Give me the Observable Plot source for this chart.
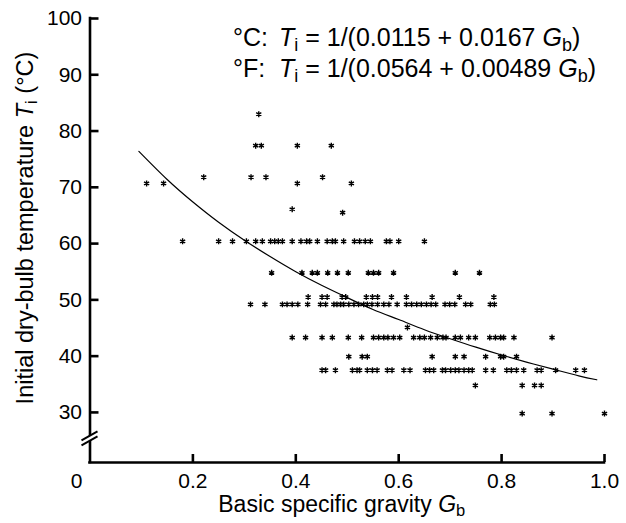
<!DOCTYPE html>
<html><head><meta charset="utf-8">
<script src="https://cdn.jsdelivr.net/npm/d3@7"></script>
<script src="https://cdn.jsdelivr.net/npm/@observablehq/plot@0.6"></script>
<style>body{margin:0;background:#fff} #chart svg{display:block}</style>
</head><body><div id="chart"></div>
<script>
// Temperature levels (°C) of the point rows, top to bottom
const rowTemps = [83.0, 77.4, 71.8, 70.7, 66.1, 65.5, 60.4, 54.8, 50.5, 49.2, 45.1, 43.3, 39.9, 37.5, 34.8, 29.8];
// Basic specific gravity of each point in each row
const gAt83 = [0.328];
const gAt77 = [0.322, 0.333, 0.403, 0.469];
const gAt72 = [0.221, 0.313, 0.342, 0.452];
const gAt71 = [0.110, 0.143, 0.403, 0.508];
const gAt66 = [0.393];
const gAt65 = [0.491];
const gAt60 = [0.180, 0.250, 0.277, 0.304, 0.322, 0.335, 0.351, 0.359, 0.366, 0.374, 0.393, 0.410, 0.421, 0.427, 0.442, 0.461, 0.471, 0.477, 0.493, 0.514, 0.524, 0.535, 0.545, 0.576, 0.583, 0.600, 0.650];
const gAt55 = [0.353, 0.412, 0.432, 0.442, 0.462, 0.481, 0.502, 0.541, 0.551, 0.561, 0.590, 0.710, 0.757];
const gAt50 = [0.424, 0.451, 0.461, 0.490, 0.497, 0.537, 0.549, 0.559, 0.586, 0.615, 0.665, 0.718, 0.785];
const gAt49 = [0.312, 0.340, 0.374, 0.383, 0.393, 0.404, 0.423, 0.448, 0.458, 0.474, 0.480, 0.487, 0.493, 0.503, 0.513, 0.522, 0.532, 0.539, 0.548, 0.559, 0.571, 0.581, 0.597, 0.615, 0.625, 0.635, 0.644, 0.654, 0.663, 0.672, 0.690, 0.699, 0.709, 0.730, 0.740, 0.778, 0.786];
const gAt45 = [0.617];
const gAt43 = [0.393, 0.419, 0.451, 0.471, 0.502, 0.528, 0.551, 0.561, 0.571, 0.579, 0.590, 0.602, 0.629, 0.641, 0.650, 0.662, 0.675, 0.686, 0.692, 0.710, 0.720, 0.736, 0.749, 0.777, 0.788, 0.798, 0.804, 0.824, 0.898];
const gAt40 = [0.503, 0.529, 0.539, 0.665, 0.710, 0.727, 0.769, 0.798, 0.804, 0.829];
const gAt37 = [0.451, 0.458, 0.477, 0.510, 0.519, 0.524, 0.539, 0.549, 0.558, 0.578, 0.587, 0.610, 0.622, 0.652, 0.660, 0.668, 0.685, 0.691, 0.701, 0.710, 0.717, 0.727, 0.736, 0.743, 0.769, 0.784, 0.810, 0.819, 0.829, 0.843, 0.869, 0.877, 0.905, 0.944, 0.961];
const gAt35 = [0.749, 0.840, 0.864, 0.877];
const gAt30 = [0.840, 0.898, 1.000];
const rowGravities = [gAt83, gAt77, gAt72, gAt71, gAt66, gAt65, gAt60, gAt55, gAt50, gAt49, gAt45, gAt43, gAt40, gAt37, gAt35, gAt30];

// Fitted curve
const curveG = [0.095, 0.15, 0.2, 0.25, 0.3, 0.35, 0.4, 0.45, 0.5, 0.55, 0.6, 0.65, 0.7, 0.75, 0.8, 0.85, 0.9, 0.95, 0.985];
const curveT = [76.4, 71.4, 67.4, 63.8, 60.6, 57.7, 55.0, 52.6, 50.4, 48.3, 46.5, 44.7, 43.1, 41.6, 40.2, 38.9, 37.7, 36.5, 35.8];

// Ticks
const xTicks = [0.2, 0.4, 0.6, 0.8, 1.0];
const yTicks = [30, 40, 50, 60, 70, 80, 90, 100];
const xDomain = [0, 1];
const yDomain = [21.1, 100];

const points = rowTemps.flatMap((t, i) => rowGravities[i].map(g => ({g, t})));
const curve = curveG.map((g, i) => ({g, t: curveT[i]}));

const FONT = '"Liberation Sans", Arial, Helvetica, sans-serif';

const chart = Plot.plot({
  width: 626, height: 523,
  marginLeft: 89.5, marginRight: 22, marginTop: 18, marginBottom: 61,
  x: {domain: xDomain},
  y: {domain: yDomain},
  style: {fontFamily: FONT, fontSize: "21px", background: "white", color: "black"},
  marks: [
    Plot.ruleX([xDomain[0]], {y1: yDomain[0], y2: yDomain[1], strokeWidth: 2.6, strokeLinecap: "square", stroke: "black"}),
    Plot.ruleY([yDomain[0]], {x1: xDomain[0], x2: xDomain[1], strokeWidth: 2.6, strokeLinecap: "square", stroke: "black"}),
    Plot.axisY({ticks: yTicks, tickSize: -9, tickPadding: 17, strokeWidth: 2.6, label: null, tickFormat: d => String(d), fontSize: 21}),
    Plot.axisX({ticks: xTicks, tickSize: -8, tickPadding: 19, strokeWidth: 2.6, label: null, tickFormat: d3.format(".1f"), fontSize: 21, textAnchor: "middle"}),
    Plot.text([xDomain[0]], {x: d => d, y: yDomain[0], text: () => "0", lineAnchor: "top", dy: 11, dx: -13.5, fontSize: 21}),
    Plot.line(curve, {x: "g", y: "t", curve: "natural", strokeWidth: 1.2, stroke: "black"}),
    Plot.dot(points, {x: "g", y: "t", symbol: "asterisk", r: 2.8, stroke: "black", strokeWidth: 1.4})
  ]
});
document.getElementById("chart").appendChild(chart);

const svg = d3.select(chart);
const xs = chart.scale("x"), ys = chart.scale("y");

// axis break marks
{
  const cx = xs.apply(0), cy = ys.apply(25.3);
  const g = svg.append("g");
  g.append("path").attr("d", `M${cx-8},${cy+2} L${cx+8},${cy-7} L${cx+8},${cy-2} L${cx-8},${cy+7} Z`).attr("fill", "white");
  g.append("line").attr("x1", cx-8).attr("y1", cy+2).attr("x2", cx+8).attr("y2", cy-7).attr("stroke", "black").attr("stroke-width", 2);
  g.append("line").attr("x1", cx-8).attr("y1", cy+7).attr("x2", cx+8).attr("y2", cy-2).attr("stroke", "black").attr("stroke-width", 2);
}

// italic main letter followed by a subscript; the next tspan restores the baseline with dy
const SUB = 0.25;
function addSub(t, main, sub) {
  t.append("tspan").attr("font-style", "italic").text(main);
  t.append("tspan").attr("font-size", "0.72em").attr("dy", SUB + "em").text(sub);
}
const RESTORE = (-SUB * 0.72) + "em";

// x axis title
{
  const t = svg.append("text").attr("x", (xs.apply(0) + xs.apply(1)) / 2 - 5).attr("y", 512)
    .attr("text-anchor", "middle").attr("font-family", FONT).attr("font-size", 23).attr("fill", "black");
  t.append("tspan").text("Basic specific gravity ");
  addSub(t, "G", "b");
}
// y axis title
{
  const t = svg.append("text").attr("transform", "translate(33,228) rotate(-90)")
    .attr("text-anchor", "middle").attr("font-family", FONT).attr("font-size", 23.5).attr("fill", "black");
  t.append("tspan").text("Initial dry-bulb temperature ");
  addSub(t, "T", "i");
  t.append("tspan").attr("dy", RESTORE).text(" (°C)");
}
// equations
function eqLine(y, unit, a, b) {
  const fs = 25;
  svg.append("text").attr("x", 233).attr("y", y).attr("text-anchor", "start").attr("font-family", FONT).attr("font-size", fs).attr("fill", "black").text(unit);
  const t = svg.append("text").attr("x", 279).attr("y", y).attr("text-anchor", "start").attr("font-family", FONT).attr("font-size", fs).attr("fill", "black");
  addSub(t, "T", "i");
  t.append("tspan").attr("dy", RESTORE).text(` = 1/(${a} + ${b} `);
  addSub(t, "G", "b");
  t.append("tspan").attr("dy", RESTORE).text(")");
}
eqLine(46, "°C:", "0.0115", "0.0167");
eqLine(77, "°F:", "0.0564", "0.00489");
</script></body></html>
